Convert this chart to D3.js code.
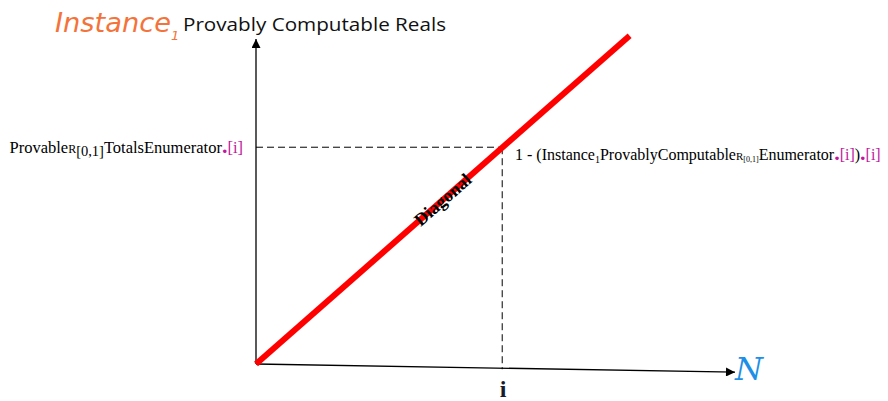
<!DOCTYPE html>
<html>
<head>
<meta charset="utf-8">
<script src="https://cdn.jsdelivr.net/npm/d3@7"></script>
<style>
  body { margin: 0; background: #fff; }
  svg { display: block; }
</style>
</head>
<body>
<svg class="js-chart"></svg>
<script>
/* global d3 */
// diagram values, in axis units (0..1 on both axes)
var xAxisEnd = [1, -0.025];          // N axis, drawn slightly sloped as in the original
var yAxisEnd = [0, 1];
var diagonalPoints = [[0, 0], [0.78, 1.01]];
var iPoint = [0.514, 0.667];
var iGuideBottom = -0.016;

var titleParts = ["Instance", "1", "Provably Computable Reals"];
var leftLabel = ["Provable", "R", "[0,1]", "TotalsEnumerator", ".", "[i]"];
var rightLabel = ["1 - (Instance", "1", "ProvablyComputable", "R", "[0,1]", "Enumerator", ".", "[i]", ")", ".", "[i]"];
var diagonalLabel = "Diagonal";
var xTickLabel = "i";
var xAxisLabel = "N";

var width = 888, height = 401;
var svg = d3.select(".js-chart").attr("width", width).attr("height", height);

var x = d3.scaleLinear().domain([0, 1]).range([256, 735]);
var y = d3.scaleLinear().domain([0, 1]).range([364, 39]);

// arrowheads
var defs = svg.append("defs");
defs.append("marker")
    .attr("id", "arrow")
    .attr("viewBox", "0 0 10 10")
    .attr("refX", 10).attr("refY", 5)
    .attr("markerWidth", 10).attr("markerHeight", 9)
    .attr("markerUnits", "userSpaceOnUse")
    .attr("orient", "auto")
  .append("path")
    .attr("d", "M0,0L10,5L0,10Z")
    .attr("fill", "#000");

// axes
svg.append("line")
    .attr("x1", x(0)).attr("y1", y(0))
    .attr("x2", x(yAxisEnd[0])).attr("y2", y(yAxisEnd[1]))
    .attr("stroke", "#000").attr("stroke-width", 1.3)
    .attr("marker-end", "url(#arrow)");

svg.append("line")
    .attr("x1", x(0)).attr("y1", y(0))
    .attr("x2", x(xAxisEnd[0])).attr("y2", y(xAxisEnd[1]))
    .attr("stroke", "#000").attr("stroke-width", 1.3)
    .attr("marker-end", "url(#arrow)");

// dashed guides to the point i
svg.append("line")
    .attr("x1", x(0)).attr("y1", y(iPoint[1]))
    .attr("x2", x(iPoint[0])).attr("y2", y(iPoint[1]))
    .attr("stroke", "#000").attr("stroke-width", 1)
    .attr("stroke-dasharray", "7,4");

svg.append("line")
    .attr("x1", x(iPoint[0])).attr("y1", y(iPoint[1]))
    .attr("x2", x(iPoint[0])).attr("y2", y(iGuideBottom))
    .attr("stroke", "#000").attr("stroke-width", 1)
    .attr("stroke-dasharray", "7,4");

// the diagonal
var line = d3.line()
    .x(function (d) { return x(d[0]); })
    .y(function (d) { return y(d[1]); });

svg.append("path")
    .datum(diagonalPoints)
    .attr("d", line)
    .attr("fill", "none")
    .attr("stroke", "#ff0000")
    .attr("stroke-width", 6);

var p0 = diagonalPoints[0], p1 = diagonalPoints[1];
var angle = Math.atan2(y(p1[1]) - y(p0[1]), x(p1[0]) - x(p0[0])) * 180 / Math.PI;
var mid = 0.5;
var midX = x(p0[0] + (p1[0] - p0[0]) * mid);
var midY = y(p0[1] + (p1[1] - p0[1]) * mid);

svg.append("text")
    .attr("transform", "translate(" + midX + "," + midY + ") rotate(" + angle + ")")
    .attr("text-anchor", "middle")
    .attr("dy", "0.33em")
    .style("font-family", "'Liberation Serif', serif")
    .style("font-weight", "bold")
    .style("font-size", "18px")
    .text(diagonalLabel);

// title
var title = svg.append("text")
    .attr("x", 55).attr("y", 32);
title.append("tspan")
    .style("font-family", "'DejaVu Sans', sans-serif")
    .style("font-style", "italic")
    .style("font-size", "26px")
    .attr("fill", "#f4733a")
    .attr("textLength", 116)
    .attr("lengthAdjust", "spacingAndGlyphs")
    .text(titleParts[0]);
title.append("tspan")
    .attr("dy", 8)
    .style("font-family", "'DejaVu Sans', sans-serif")
    .style("font-style", "italic")
    .style("font-size", "13px")
    .attr("fill", "#f4733a")
    .text(titleParts[1]);
title.append("tspan")
    .attr("x", 183).attr("dy", -9)
    .style("font-family", "'Open Sans', sans-serif")
    .style("font-size", "19px")
    .attr("fill", "#111")
    .attr("textLength", 263)
    .attr("lengthAdjust", "spacingAndGlyphs")
    .text(titleParts[2]);

// helper for the serif labels with small-cap R, subscripts and magenta dots
var magenta = "#c0189c";
function richLabel(parts, styles, attrs) {
    var t = svg.append("text")
        .attr("x", attrs.x).attr("y", attrs.y)
        .attr("text-anchor", attrs.anchor)
        .style("font-family", "'Liberation Serif', serif")
        .style("font-size", attrs.size + "px")
        .attr("fill", "#000");
    var shift = 0;
    parts.forEach(function (p, k) {
        var s = styles[k];
        var ts = t.append("tspan").text(p);
        var dy = (s.dy || 0) - shift;
        if (dy) ts.attr("dy", dy);
        shift = s.dy || 0;
        if (s.size) ts.style("font-size", s.size + "px");
        if (s.color) ts.attr("fill", s.color);
        if (s.bold) ts.style("font-weight", "bold");
    });
    return t;
}

richLabel(leftLabel, [
    {}, {size: 12}, {dy: 3, size: 14.5}, {}, {color: magenta, bold: true, size: 22}, {color: magenta}
], {x: 243, y: 153, anchor: "end", size: 16.5});

richLabel(rightLabel, [
    {}, {dy: 3, size: 10}, {}, {size: 11}, {dy: 2, size: 8}, {},
    {color: magenta, bold: true, size: 22}, {color: magenta}, {},
    {color: magenta, bold: true, size: 22}, {color: magenta}
], {x: 515, y: 160, anchor: "start", size: 16});

// tick label and axis name
svg.append("text")
    .attr("x", x(iPoint[0]) + 1).attr("y", 397)
    .attr("text-anchor", "middle")
    .style("font-family", "'Liberation Serif', serif")
    .style("font-weight", "bold")
    .style("font-size", "24px")
    .attr("fill", "#1a1a2a")
    .text(xTickLabel);

svg.append("text")
    .attr("x", x(xAxisEnd[0])).attr("y", 380)
    .style("font-family", "'DejaVu Serif', serif")
    .style("font-style", "italic")
    .style("font-size", "32px")
    .attr("fill", "#1d8fe6")
    .text(xAxisLabel);
</script>
</body>
</html>
